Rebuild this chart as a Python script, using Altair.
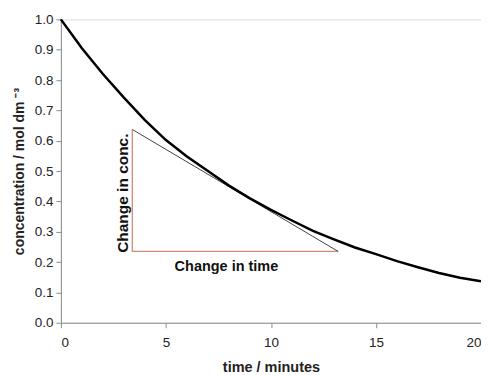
import altair as alt
import pandas as pd

time_min = list(range(0, 21))
conc = [1.00, 0.905, 0.82, 0.742, 0.668, 0.602, 0.548, 0.50, 0.452, 0.41,
        0.372, 0.337, 0.303, 0.275, 0.248, 0.226, 0.203, 0.183, 0.164, 0.148, 0.137]

tangent_t = [3.4, 13.2]
tangent_c = [0.637, 0.235]

tri_t = [3.4, 3.4, 13.2]
tri_c = [0.637, 0.235, 0.235]

y_ticks = [0.0, 0.1, 0.2, 0.3, 0.4, 0.5, 0.6, 0.7, 0.8, 0.9, 1.0]
x_ticks = [0, 5, 10, 15, 20]

curve = pd.DataFrame({"t": time_min, "c": conc})
tan_df = pd.DataFrame({"t": tangent_t, "c": tangent_c})
tri_df = pd.DataFrame({"t": tri_t, "c": tri_c, "o": [0, 1, 2]})

FONT = "Liberation Sans"

x_scale = alt.Scale(domain=[0, 20], nice=False)
y_scale = alt.Scale(domain=[0, 1.0], nice=False)

x_axis = alt.Axis(title="time / minutes", values=x_ticks, grid=False,
                  domainColor="#8c8c8c", tickColor="#8c8c8c", tickSize=5,
                  labelFont=FONT, labelFontSize=13.5, labelColor="#222",
                  labelPadding=8, labelOverlap=False,
                  titleFont=FONT, titleFontSize=14.5, titleFontWeight="bold",
                  titleColor="#222", titlePadding=11)
y_axis = alt.Axis(title="concentration / mol dm  ⁻³", values=y_ticks,
                  format=".1f", grid=False,
                  domainColor="#8c8c8c", tickColor="#8c8c8c", tickSize=5,
                  labelFont=FONT, labelFontSize=13.5, labelColor="#222",
                  labelPadding=3, labelOverlap=False,
                  titleFont=FONT, titleFontSize=14, titleFontWeight="bold",
                  titleColor="#222", titlePadding=8)

X = alt.X("t:Q", scale=x_scale, axis=x_axis)
Y = alt.Y("c:Q", scale=y_scale, axis=y_axis)

line = alt.Chart(curve).mark_line(color="black", strokeWidth=2.5).encode(x=X, y=Y)

tangent = alt.Chart(tan_df).mark_line(color="#444444", strokeWidth=1).encode(x=X, y=Y)

tri = alt.Chart(tri_df).mark_line(color="#d08a7a", strokeWidth=1.3).encode(
    x=X, y=Y, order="o:Q"
)

lbl_conc = alt.Chart(pd.DataFrame({"t": [2.94], "c": [0.427], "s": ["Change in conc."]})).mark_text(
    angle=270, font=FONT, fontSize=15.5, fontWeight="bold", color="#111", baseline="middle", align="center"
).encode(x=X, y=Y, text="s:N")

lbl_time = alt.Chart(pd.DataFrame({"t": [7.88], "c": [0.185], "s": ["Change in time"]})).mark_text(
    font=FONT, fontSize=14.5, fontWeight="bold", color="#111", baseline="middle", align="center"
).encode(x=X, y=Y, text="s:N")

chart = alt.layer(tri, tangent, line, lbl_conc, lbl_time).properties(
    width=421, height=304,
    autosize=alt.AutoSizeParams(type="none"),
    padding={"left": 53, "top": 11, "right": 0, "bottom": 52},
).configure_view(stroke="#8c8c8c", strokeWidth=1).configure(background="white")

chart.save("out.html", embed_options={"renderer": "svg", "actions": False})
